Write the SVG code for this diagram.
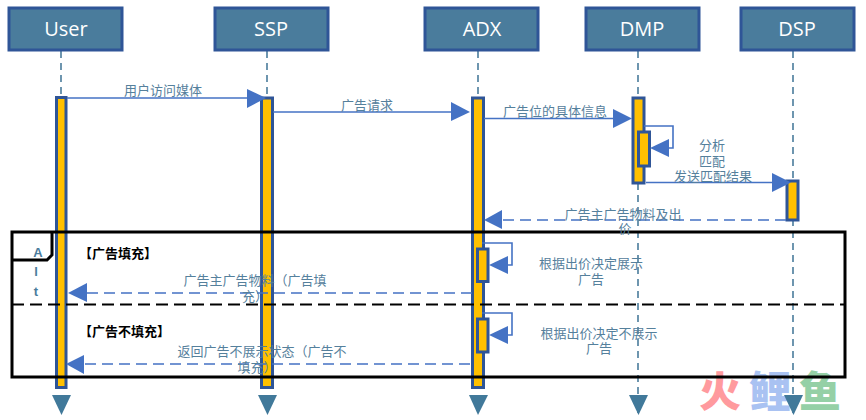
<svg xmlns="http://www.w3.org/2000/svg" width="866" height="420" viewBox="0 0 866 420">
<style>
text{font-family:"Noto Sans CJK SC","Noto Sans",sans-serif}
.box{fill:#4a7c9c;stroke:#2f5597;stroke-width:3}
.name{font-family:"Open Sans","Noto Sans CJK SC",sans-serif;font-size:20px;fill:#fff;text-anchor:middle}
.life{stroke:#4a7c9c;stroke-width:1.6;stroke-dasharray:7 5;fill:none}
.end{fill:#41799a}
.act{fill:#ffc000;stroke:#2f5597;stroke-width:3}
.msg{stroke:#4472c4;stroke-width:1.6;fill:none}
.dash{stroke-dasharray:11 6}
.head{fill:#4472c4}
.lbl{font-size:13px;fill:#55809c;text-anchor:middle}
.guard{font-size:13px;font-weight:700;fill:#000}
.alt{font-family:"Liberation Sans",sans-serif;font-size:13px;font-weight:700;fill:#4a7c9c;text-anchor:middle}
</style>
<g id="watermark" font-size="42" font-weight="900">
<text x="699" y="407" fill="#ff9a9e">火</text>
<text x="749" y="407" fill="#a9c2f2">鲤</text>
<text x="799" y="407" fill="#95d0a6">鱼</text>
</g>
<g id="lifelines">
<path class="life" d="M61 51V96"/><path class="life" d="M267 51V97"/><path class="life" d="M478 51V97"/><path class="life" d="M638 51V413"/><path class="life" d="M793 51V413"/>
<path class="end" d="M52 395H71L61.500 415Z"/><path class="end" d="M258 395H277L267.500 415Z"/><path class="end" d="M469 395H488L478 415Z"/><path class="end" d="M629 395H648L638.500 415Z"/><path class="end" d="M784 395H803L793.500 415Z"/>
</g>
<g id="node-user"><rect class="box" x="9" y="8" width="113" height="42"/><text class="name" x="66" y="36">User</text></g>
<g id="node-ssp"><rect class="box" x="215" y="8" width="113" height="42"/><text class="name" x="271" y="36">SSP</text></g>
<g id="node-adx"><rect class="box" x="425" y="8" width="113" height="42"/><text class="name" x="482" y="36">ADX</text></g>
<g id="node-dmp"><rect class="box" x="586" y="8" width="113" height="42"/><text class="name" x="642" y="36">DMP</text></g>
<g id="node-dsp"><rect class="box" x="741" y="8" width="113" height="42"/><text class="name" x="797" y="36">DSP</text></g>
<g id="activations">
<rect class="act" x="56.500" y="97.500" width="9.500" height="290"/>
<rect class="act" x="261.500" y="98" width="11" height="289.500"/>
<rect class="act" x="472.500" y="98" width="11" height="289.500"/>
<rect class="act" x="633" y="98" width="11" height="85"/>
<rect class="act" x="638.500" y="132" width="11" height="34"/>
<rect class="act" x="787" y="181" width="11" height="39"/>
<rect class="act" x="477.500" y="249" width="10.500" height="32.500"/>
<rect class="act" x="477.500" y="319" width="10.500" height="33"/>
</g>
<g id="frame" fill="none" stroke="#000">
<rect x="12" y="232" width="833" height="145" stroke-width="3"/>
<path d="M12 260H47L52 255V232" stroke-width="3"/>
<path d="M12 304.500H845" stroke-width="1.800" stroke-dasharray="12 6"/>
<text class="alt" stroke="none" x="38" y="257">A</text><text class="alt" stroke="none" x="36" y="276">l</text><text class="alt" stroke="none" x="36" y="296">t</text>
<text class="guard" stroke="none" x="79" y="258">【广告填充】</text>
<text class="guard" stroke="none" x="79" y="336">【广告不填充】</text>
</g>
<g id="connectors">
<path class="msg" d="M67 98H248"/><path class="head" d="M247 89L266 98L247 108Z"/>
<path class="msg" d="M273 112H452"/><path class="head" d="M451 102L470 112L451 121Z"/>
<path class="msg" d="M484 118.500H614"/><path class="head" d="M613 109L632 118.500L613 128Z"/>
<path class="msg" d="M644 126H673V148H668"/><path class="head" d="M669 139L650 148L669 157Z"/>
<path class="msg" d="M646 182.500H773"/><path class="head" d="M772 173L791 182.500L772 192Z"/>
<path class="msg dash" d="M786 220H500"/><path class="head" d="M502 210L484 220L502 229Z"/>
<path class="msg" d="M482 243H512V265H505"/><path class="head" d="M508 256L489 265L508 274Z"/>
<path class="msg dash" d="M472 293H85"/><path class="head" d="M87 283L68 293L87 302Z"/>
<path class="msg" d="M482 313H512V335H505"/><path class="head" d="M508 326L489 335L508 344Z"/>
<path class="msg dash" d="M470 364H82"/><path class="head" d="M84 355L66 364L84 374Z"/>
</g>
<g id="labels">
<text class="lbl" x="163" y="95">用户访问媒体</text>
<text class="lbl" x="367" y="110">广告请求</text>
<text class="lbl" x="555" y="116">广告位的具体信息</text>
<text class="lbl" x="712" y="150">分析</text><text class="lbl" x="712" y="166">匹配</text>
<text class="lbl" x="713" y="181">发送匹配结果</text>
<text class="lbl" x="623" y="219">广告主广告物料及出</text><text class="lbl" x="625" y="233">价</text>
<text class="lbl" x="591" y="268">根据出价决定展示</text><text class="lbl" x="591" y="284">广告</text>
<text class="lbl" x="599" y="338">根据出价决定不展示</text><text class="lbl" x="599" y="353">广告</text>
<text class="lbl" x="255" y="285">广告主广告物料（广告填</text><text class="lbl" x="255" y="301">充）</text>
<text class="lbl" x="262" y="356">返回广告不展示状态（广告不</text><text class="lbl" x="257" y="372">填充）</text>
</g>
</svg>
